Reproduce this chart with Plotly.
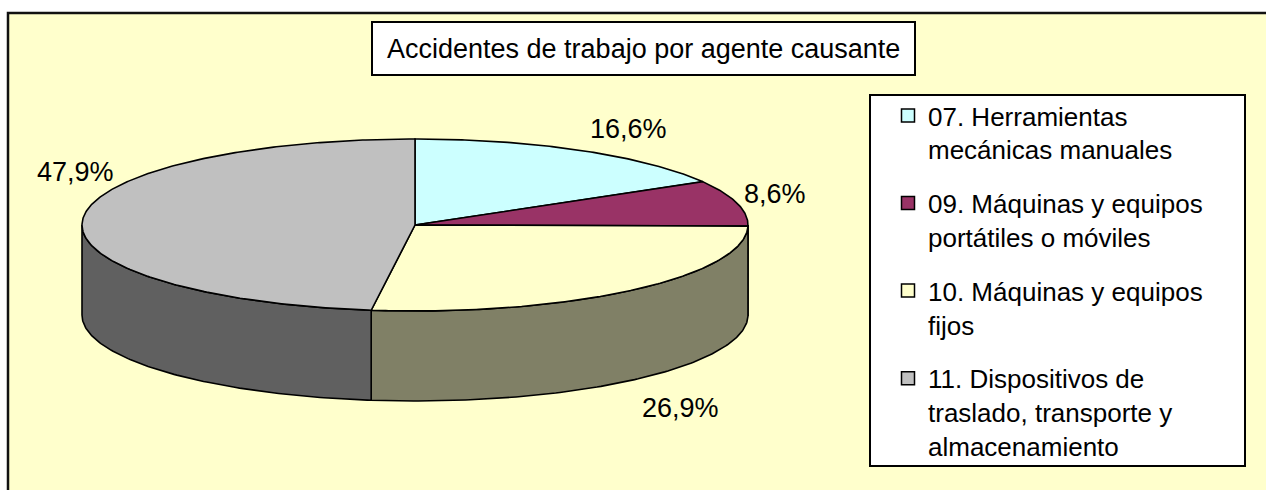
import textwrap
import numpy as np
import plotly.graph_objects as go

# --- data -------------------------------------------------------------------
categories = [
    "07. Herramientas mecánicas manuales",
    "09. Máquinas y equipos portátiles o móviles",
    "10. Máquinas y equipos fijos",
    "11. Dispositivos de traslado, transporte y almacenamiento",
]
shares = [16.6, 8.6, 26.9, 47.9]
title_text = "Accidentes de trabajo por agente causante"

# --- styling ----------------------------------------------------------------
top_colors = ["#CCFFFF", "#993366", "#FFFFCC", "#C0C0C0"]
side_colors = ["#668080", "#4D1A33", "#808066", "#606060"]
FONT = "Liberation Sans, Arial, Helvetica, sans-serif"
W, H = 1266, 490

# 3-D pie geometry (pixel space of the canvas)
cx, cy, rx, ry, depth = 415, 225, 333, 86, 90
label_xy = [(628, 129), (775, 194), (680, 408), (75, 172)]


def rim(theta_deg, dy=0.0):
    t = np.radians(theta_deg)
    return cx + rx * np.sin(t), cy - ry * np.cos(t) + dy


total = float(sum(shares))
bounds = np.concatenate([[0.0], np.cumsum(shares)]) / total * 360.0

fig = go.Figure()

# side walls: only the front half (90..270 deg, clockwise from 12 o'clock) shows
for i in range(len(shares)):
    a0, a1 = max(bounds[i], 90.0), min(bounds[i + 1], 270.0)
    if a1 <= a0:
        continue
    th = np.linspace(a0, a1, 120)
    xt, yt = rim(th)
    xb, yb = rim(th[::-1], depth)
    xs = np.concatenate([xt, xb, xt[:1]])
    ys = np.concatenate([yt, yb, yt[:1]])
    fig.add_trace(go.Scatter(
        x=xs, y=ys, mode="lines", fill="toself", fillcolor=side_colors[i],
        line=dict(color="black", width=1.6), hoverinfo="skip", showlegend=False,
    ))

# top faces
for i in range(len(shares)):
    n = max(int((bounds[i + 1] - bounds[i]) * 2), 8)
    th = np.linspace(bounds[i], bounds[i + 1], n)
    xa, ya = rim(th)
    xs = np.concatenate([[cx], xa, [cx]])
    ys = np.concatenate([[cy], ya, [cy]])
    fig.add_trace(go.Scatter(
        x=xs, y=ys, mode="lines", fill="toself", fillcolor=top_colors[i],
        line=dict(color="black", width=1.6), hoverinfo="skip", showlegend=False,
    ))

# legend entries
for i, name in enumerate(categories):
    fig.add_trace(go.Scatter(
        x=[None], y=[None], mode="markers",
        marker=dict(symbol="square", size=13, color=top_colors[i],
                    line=dict(color="black", width=1.5)),
        name="<br>".join(textwrap.wrap(name, 22)),
        legendgroup=f"g{i}",
    ))

# percentage labels
annotations = []
for v, (lx, ly) in zip(shares, label_xy):
    pct = f"{v / total * 100:.1f}%".replace(".", ",")
    annotations.append(dict(
        x=lx, y=ly, xref="x", yref="y", text=pct, showarrow=False,
        font=dict(family=FONT, size=27, color="black"),
    ))

# chart title inside its framed box
annotations.append(dict(
    x=643.5, y=49, xref="x", yref="y", text=title_text, showarrow=False,
    font=dict(family=FONT, size=27, color="black"),
))

shapes = [
    # chart area
    dict(type="rect", xref="x", yref="y", x0=8, y0=13, x1=W + 10, y1=H + 10,
         fillcolor="#FFFFCC", line=dict(color="#111111", width=2.5), layer="below"),
    # title frame
    dict(type="rect", xref="x", yref="y", x0=372, y0=22, x1=915, y1=75,
         fillcolor="white", line=dict(color="black", width=2), layer="below"),
    # legend frame
    dict(type="rect", xref="x", yref="y", x0=870, y0=95, x1=1245, y1=466,
         fillcolor="white", line=dict(color="black", width=2), layer="below"),
]

fig.update_layout(
    width=W, height=H,
    margin=dict(l=0, r=0, t=0, b=0),
    paper_bgcolor="white", plot_bgcolor="rgba(0,0,0,0)",
    xaxis=dict(range=[0, W], visible=False, fixedrange=True),
    yaxis=dict(range=[H, 0], visible=False, fixedrange=True),
    showlegend=True,
    legend=dict(
        x=888 / W, y=1 - 92 / H, xanchor="left", yanchor="top",
        bgcolor="rgba(0,0,0,0)", borderwidth=0,
        font=dict(family=FONT, size=26, color="black"),
        traceorder="grouped", tracegroupgap=17, valign="top",
    ),
    shapes=shapes,
    annotations=annotations,
)

fig.write_html("out.html")
